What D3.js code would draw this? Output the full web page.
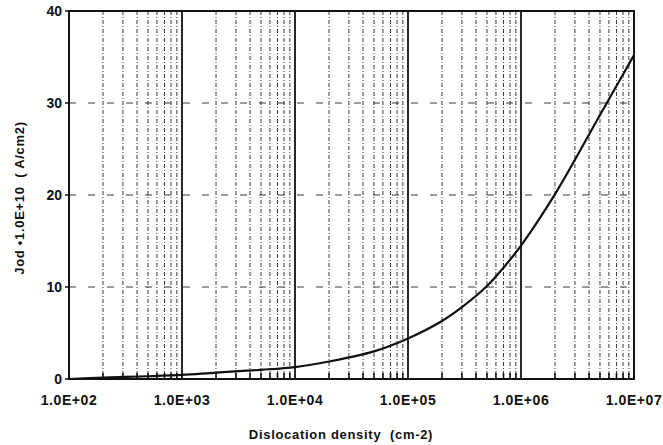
<!DOCTYPE html>
<html>
<head>
<meta charset="utf-8">
<script src="https://cdn.jsdelivr.net/npm/d3@7"></script>
<style>
  body { margin: 0; background: #fff; }
  text { font-family: "Liberation Sans", Arial, sans-serif; font-weight: bold; fill: #111; }
</style>
</head>
<body>
<svg id="chart"></svg>
<script>
// curve
const densities = [1e2, 2e2, 5e2, 1e3, 2e3, 5e3, 1e4, 2e4, 5e4, 1e5, 2e5, 3e5, 5e5, 7e5, 1e6, 2e6, 5e6, 1e7];
const jodValues = [0.0, 0.15, 0.3, 0.45, 0.7, 1.0, 1.3, 1.9, 3.0, 4.4, 6.3, 7.8, 10.1, 12.1, 14.5, 20.1, 28.7, 35.2];

// tick labels
const xTicks = [1e2, 1e3, 1e4, 1e5, 1e6, 1e7];
const xTickLabels = ['1.0E+02', '1.0E+03', '1.0E+04', '1.0E+05', '1.0E+06', '1.0E+07'];
const yTicks = [0, 10, 20, 30, 40];

function buildChart() {
    const width = 663;
    const height = 445;
    const svg = d3.select('#chart').attr('width', width).attr('height', height);

    const left = 69, right = 634, top = 11, bottom = 379;

    const x = d3.scaleLog().domain([1e2, 1e7]).range([left, right]);
    const y = d3.scaleLinear().domain([0, 40]).range([bottom, top]);

    // minor grid lines (2..9 of each decade)
    const minor = [];
    for (let d = 2; d < 7; d++) {
        for (let m = 2; m <= 9; m++) minor.push(m * Math.pow(10, d));
    }

    const grid = svg.append('g');
    grid.selectAll('line.minor')
        .data(minor)
        .enter()
        .append('line')
        .attr('x1', d => x(d)).attr('x2', d => x(d))
        .attr('y1', top).attr('y2', bottom)
        .attr('stroke', '#222')
        .attr('stroke-width', 0.9)
        .attr('stroke-dasharray', '4,2,1,2');

    // bottom tick marks on every grid line
    grid.selectAll('line.tick')
        .data(minor)
        .enter()
        .append('line')
        .attr('x1', d => x(d)).attr('x2', d => x(d))
        .attr('y1', bottom).attr('y2', bottom - 6)
        .attr('stroke', '#111')
        .attr('stroke-width', 1.6);

    // decade lines are solid
    grid.selectAll('line.decade')
        .data(xTicks.slice(1, -1))
        .enter()
        .append('line')
        .attr('x1', d => x(d)).attr('x2', d => x(d))
        .attr('y1', top).attr('y2', bottom)
        .attr('stroke', '#111')
        .attr('stroke-width', 1.8);

    // horizontal grid
    grid.selectAll('line.h')
        .data(yTicks.slice(1, -1))
        .enter()
        .append('line')
        .attr('x1', left).attr('x2', right)
        .attr('y1', d => y(d)).attr('y2', d => y(d))
        .attr('stroke', '#222')
        .attr('stroke-width', 0.9)
        .attr('stroke-dasharray', '7,12');

    // frame
    svg.append('rect')
        .attr('x', left).attr('y', top)
        .attr('width', right - left).attr('height', bottom - top)
        .attr('fill', 'none')
        .attr('stroke', '#111')
        .attr('stroke-width', 2);

    // y ticks
    svg.append('g').selectAll('line')
        .data(yTicks)
        .enter()
        .append('line')
        .attr('x1', left - 4).attr('x2', left)
        .attr('y1', d => y(d)).attr('y2', d => y(d))
        .attr('stroke', '#111')
        .attr('stroke-width', 1.5);

    svg.append('g').selectAll('text')
        .data(yTicks)
        .enter()
        .append('text')
        .attr('x', left - 7)
        .attr('y', d => y(d) + 5)
        .attr('text-anchor', 'end')
        .attr('font-size', 14)
        .text(d => d);

    // x tick labels
    svg.append('g').selectAll('text')
        .data(xTicks)
        .enter()
        .append('text')
        .attr('x', d => x(d))
        .attr('y', 405)
        .attr('text-anchor', 'middle')
        .attr('font-size', 14)
        .attr('letter-spacing', 0.6)
        .text((d, i) => xTickLabels[i]);

    // axis titles
    svg.append('text')
        .attr('x', 341).attr('y', 439)
        .attr('text-anchor', 'middle')
        .attr('font-size', 13)
        .attr('letter-spacing', 0.7)
        .attr('xml:space', 'preserve')
        .text('Dislocation density  (cm-2)');

    svg.append('text')
        .attr('transform', 'translate(24,198) rotate(-90)')
        .attr('text-anchor', 'middle')
        .attr('font-size', 13)
        .attr('letter-spacing', 0.7)
        .attr('xml:space', 'preserve')
        .text('Jod \u20221.0E+10  ( A/cm2)');

    // the curve
    const line = d3.line()
        .x((d, i) => x(densities[i]))
        .y(d => y(d))
        .curve(d3.curveCatmullRom.alpha(0.5));

    svg.append('path')
        .datum(jodValues)
        .attr('d', line)
        .attr('fill', 'none')
        .attr('stroke', '#111')
        .attr('stroke-width', 2.2);
}

buildChart();
</script>
</body>
</html>
